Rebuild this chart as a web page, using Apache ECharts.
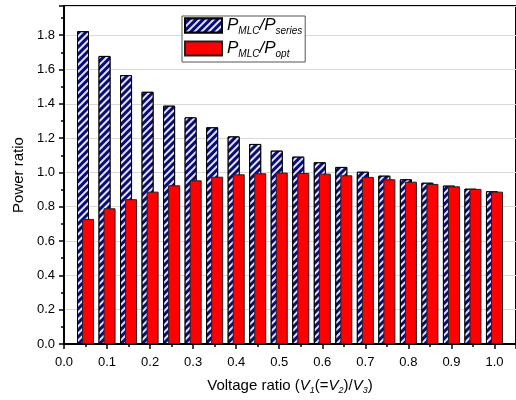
<!DOCTYPE html>
<html>
<head>
<meta charset="utf-8">
<script src="https://cdn.jsdelivr.net/npm/echarts@6/dist/echarts.min.js"></script>
<style>
  html, body { margin: 0; padding: 0; background: #fff; }
  #chart { width: 516px; height: 400px; }
</style>
</head>
<body>
<div id="chart"></div>
<script>
// voltage ratio V1(=V2)/V3 at each bar pair
var ratios = [0.05, 0.10, 0.15, 0.20, 0.25, 0.30, 0.35, 0.40, 0.45, 0.50,
              0.55, 0.60, 0.65, 0.70, 0.75, 0.80, 0.85, 0.90, 0.95, 1.00];
// P_MLC / P_series
var seriesRatio = [1.823, 1.679, 1.567, 1.470, 1.389, 1.321, 1.263, 1.210, 1.166, 1.127,
                   1.092, 1.059, 1.032, 1.004, 0.981, 0.960, 0.940, 0.923, 0.905, 0.890];
// P_MLC / P_opt
var optRatio = [0.729, 0.791, 0.844, 0.888, 0.925, 0.954, 0.975, 0.989, 0.995, 0.999,
                0.997, 0.993, 0.983, 0.974, 0.960, 0.946, 0.933, 0.919, 0.904, 0.888];

var font = "Liberation Sans";

function pairs(xs, ys) {
  return xs.map(function (x, i) { return [x, ys[i]]; });
}

var myChart = echarts.init(document.getElementById("chart"));

myChart.setOption({
  animation: false,
  grid: {
    left: 64, top: 6, right: -2, bottom: 56,
    show: true, borderColor: "#000", borderWidth: 2
  },
  legend: {
    orient: "vertical",
    left: 182, top: 16,
    padding: [1, 3, 3, 2],
    itemWidth: 37, itemHeight: 14, itemGap: 4,
    icon: "rect",
    backgroundColor: "#fff",
    borderColor: "#555", borderWidth: 1,
    borderRadius: 0,
    data: ["series", "opt"],
    formatter: function (name) {
      return "{p|P}{s|MLC}{p|/P}{s|" + name + "}";
    },
    textStyle: {
      rich: {
        p: { fontFamily: font, fontSize: 17, fontStyle: "italic", color: "#000", lineHeight: 21 },
        s: { fontFamily: font, fontSize: 10, fontStyle: "italic", color: "#000", verticalAlign: "bottom", lineHeight: 10 }
      }
    }
  },
  xAxis: {
    type: "value",
    min: 0, max: 1.05, interval: 0.1,
    axisLine: { show: true, lineStyle: { color: "#000", width: 2 } },
    axisTick: { show: true, length: 5, lineStyle: { color: "#000", width: 1.5 } },
    minorTick: { show: true, splitNumber: 2, length: 3, lineStyle: { color: "#000", width: 1.5 } },
    splitLine: { show: false },
    axisLabel: {
      showMaxLabel: false, margin: 12,
      fontFamily: font, fontSize: 13, color: "#000",
      formatter: function (v) { return v.toFixed(1); }
    },
    name: "{t|Voltage ratio (}{i|V}{s|1}{t|(=}{i|V}{s|2}{t|)/}{i|V}{s|3}{t|)}",
    nameLocation: "middle",
    nameGap: 33,
    nameTextStyle: {
      rich: {
        t: { fontFamily: font, fontSize: 15, color: "#000", lineHeight: 18 },
        i: { fontFamily: font, fontSize: 15, fontStyle: "italic", color: "#000", lineHeight: 18 },
        s: { fontFamily: font, fontSize: 9, fontStyle: "italic", color: "#000", verticalAlign: "bottom", lineHeight: 9 }
      }
    }
  },
  yAxis: {
    type: "value",
    min: 0, max: 1.97, interval: 0.2,
    axisLine: { show: true, lineStyle: { color: "#000", width: 2 } },
    axisTick: { show: true, length: 5, lineStyle: { color: "#000", width: 1.5 } },
    minorTick: { show: true, splitNumber: 2, length: 3, lineStyle: { color: "#000", width: 1.5 } },
    splitLine: { show: true, lineStyle: { color: "#d9d9d9", width: 1 } },
    axisLabel: {
      showMaxLabel: false, margin: 9,
      fontFamily: font, fontSize: 13, color: "#000",
      formatter: function (v) { return v.toFixed(1); }
    },
    name: "Power ratio",
    nameLocation: "middle",
    nameGap: 37,
    nameTextStyle: { fontFamily: font, fontSize: 15, color: "#000" }
  },
  series: [
    {
      name: "series",
      type: "bar",
      barWidth: 12,
      barGap: "-58%",
      data: pairs(ratios, seriesRatio),
      itemStyle: {
        color: "#0c0c78",
        borderColor: "#000",
        borderWidth: 1,
        decal: {
          symbol: "rect",
          color: "rgba(235,240,255,0.95)",
          dashArrayX: [1, 0],
          dashArrayY: [1.5, 2.5],
          rotation: -Math.PI / 4
        }
      }
    },
    {
      name: "opt",
      type: "bar",
      barWidth: 12,
      barGap: "-58%",
      data: pairs(ratios, optRatio),
      itemStyle: {
        color: "#ff0000",
        borderColor: "#222",
        borderWidth: 1
      }
    }
  ]
});
</script>
</body>
</html>
